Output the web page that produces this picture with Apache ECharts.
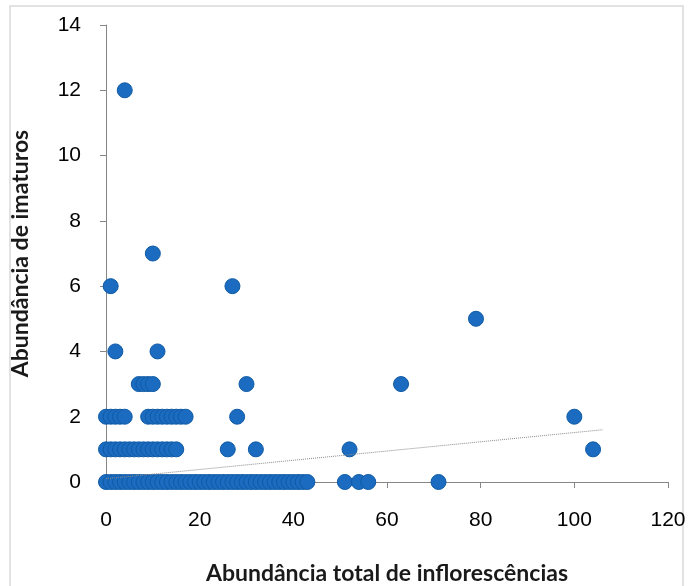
<!DOCTYPE html>
<html>
<head>
<meta charset="utf-8">
<script src="https://cdn.jsdelivr.net/npm/echarts@6/dist/echarts.min.js"></script>
<style>
html,body{margin:0;padding:0;background:#fff;}
#chart{width:689px;height:586px;}
</style>
</head>
<body>
<div id="chart"></div>
<script>
// Abundância total de inflorescências (x) and Abundância de imaturos (y)
var xValues = [
  0,1,2,3,4,5,6,7,8,9,10,11,12,13,14,15,16,17,18,19,20,21,22,23,24,25,26,27,28,29,30,31,32,33,34,35,36,37,38,39,40,41,42,43,51,54,56,71,
  0,1,2,3,4,5,6,7,8,9,10,11,12,13,14,15,26,32,52,104,
  0,1,2,3,4,9,10,11,12,13,14,15,16,17,28,100,
  7,8,9,10,30,63,
  2,11,
  79,
  1,27,
  10,
  4
];
var yValues = [
  0,0,0,0,0,0,0,0,0,0,0,0,0,0,0,0,0,0,0,0,0,0,0,0,0,0,0,0,0,0,0,0,0,0,0,0,0,0,0,0,0,0,0,0,0,0,0,0,
  1,1,1,1,1,1,1,1,1,1,1,1,1,1,1,1,1,1,1,1,
  2,2,2,2,2,2,2,2,2,2,2,2,2,2,2,2,
  3,3,3,3,3,3,
  4,4,
  5,
  6,6,
  7,
  12
];
var trendX = [0, 106];
var trendY = [0.1, 1.6];
var xTicks = [0, 20, 40, 60, 80, 100, 120];
var yTicks = [0, 2, 4, 6, 8, 10, 12, 14];

var points = xValues.map(function (x, i) { return [x, yValues[i]]; });
var trend = trendX.map(function (x, i) { return [x, trendY[i]]; });

var axisColor = '#868686';
var chart = echarts.init(document.getElementById('chart'));
chart.setOption({
  animation: false,
  backgroundColor: '#fff',
  graphic: [{
    type: 'rect',
    shape: { x: 10, y: 6, width: 673, height: 600 },
    style: { fill: 'none', stroke: '#d9d9d9', lineWidth: 1.5 },
    silent: true
  }],
  grid: { left: 106, right: 21, top: 25, bottom: 104, containLabel: false, outerBoundsMode: 'none' },
  xAxis: {
    type: 'value',
    min: xTicks[0], max: xTicks[xTicks.length - 1], interval: 20,
    name: 'Abundância total de inflorescências',
    nameLocation: 'middle', nameGap: 80,
    nameTextStyle: { fontFamily: 'Lato', fontWeight: 'bold', fontSize: 23, color: '#1a1a1a' },
    axisLine: { lineStyle: { color: axisColor, width: 1 } },
    axisTick: { show: true, inside: false, length: 6, lineStyle: { color: axisColor } },
    axisLabel: { margin: 28, fontFamily: 'Liberation Sans', fontSize: 21, color: '#000' },
    splitLine: { show: false }
  },
  yAxis: {
    type: 'value',
    min: yTicks[0], max: yTicks[yTicks.length - 1], interval: 2,
    name: 'Abundância de imaturos',
    nameLocation: 'middle', nameGap: 74, nameRotate: 90,
    nameTextStyle: { fontFamily: 'Lato', fontWeight: 'bold', fontSize: 23, color: '#1a1a1a' },
    axisLine: { show: true, lineStyle: { color: axisColor, width: 1 } },
    axisTick: { show: true, inside: false, length: 6, lineStyle: { color: axisColor } },
    axisLabel: { margin: 25, fontFamily: 'Liberation Sans', fontSize: 21, color: '#000' },
    splitLine: { show: false }
  },
  series: [
    {
      type: 'scatter',
      data: points,
      symbol: 'circle',
      symbolSize: 15,
      itemStyle: { color: '#1b6cc0', borderColor: '#0f5aa5', borderWidth: 1, opacity: 1 },
      z: 2
    },
    {
      type: 'line',
      data: trend,
      symbol: 'none',
      lineStyle: { color: '#8a8a8a', width: 1, type: 'dotted' },
      z: 3
    }
  ]
});
</script>
</body>
</html>
